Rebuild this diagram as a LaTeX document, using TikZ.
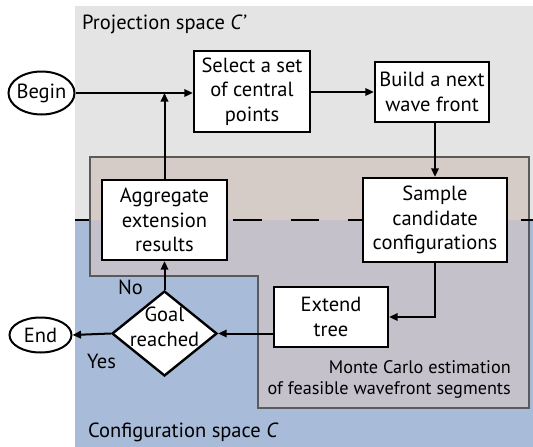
\documentclass[tikz,border=0pt]{standalone}
\usepackage{fontspec}
\setmainfont{PT Sans}
\usetikzlibrary{shapes.geometric,arrows.meta}

\definecolor{projgray}{HTML}{E4E4E4}
\definecolor{confblue}{HTML}{A8BBD8}
\definecolor{mcupper}{HTML}{D5CCC8}
\definecolor{mclower}{HTML}{C5C1CB}
\definecolor{mcedge}{HTML}{5A5A5A}

\tikzset{
  boxfont/.style={font=\fontsize{20.5}{24.5}\selectfont},
  stepbox/.style={boxfont, draw=black, line width=2.4pt, fill=white,
    rectangle, align=center, inner sep=0pt},
  terminal/.style={boxfont, draw=black, line width=2pt, fill=white,
    ellipse, inner sep=0pt},
  decision/.style={draw=black, line width=2.4pt, fill=white,
    diamond, inner sep=0pt},
  conn/.style={line width=2pt, -{Triangle[length=8.5pt,width=7.5pt]}},
  region/.style={font=\fontsize{20.5}{24}\selectfont, inner sep=0pt},
}

\begin{document}
\begin{tikzpicture}[x=1pt, y=-1pt]
\useasboundingbox (0,0) rectangle (533,447);

% the two spaces
\fill[projgray] (75,6) rectangle (533,220);
\fill[confblue] (75,220) rectangle (533,447);

% Monte Carlo estimation area (L-shaped)
\def\mcpath{(90,157) -- (529,157) -- (529,408) -- (258,408) -- (258,276) -- (90,276) -- cycle}
\begin{scope}
  \clip (0,0) rectangle (533,220);
  \fill[mcupper] \mcpath;
\end{scope}
\begin{scope}
  \clip (0,220) rectangle (533,447);
  \fill[mclower] \mcpath;
\end{scope}
\draw[mcedge, line width=1.8pt] \mcpath;

% border between the spaces
\begin{scope}
  \clip (75,0) rectangle (533,447);
  \draw[line width=2pt, dash pattern=on 28.5pt off 29pt] (60.5,220) -- (533,220);
\end{scope}

% region labels
\node[region, anchor=base west] (projlabel) at (82,29) {Projection space \textit{C'}};
\node[region, anchor=base west] (conflabel) at (88,437) {Configuration space \textit{C}};
\node[font=\fontsize{18.2}{21}\selectfont, inner sep=0pt, align=right, anchor=south east]
  (mclabel) at (511,399) {Monte Carlo estimation\\of feasible wavefront segments};

% flow nodes
\node[terminal, minimum width=66pt, minimum height=43pt] (begin) at (41.5,93) {\makebox[0pt]{Begin}};
\node[stepbox, minimum width=116pt, minimum height=81pt] (select) at (252,91.5) {Select a set\\of central\\points};
\node[stepbox, minimum width=114pt, minimum height=60pt] (build) at (432,92) {Build a next\\wave front};
\node[stepbox, minimum width=144pt, minimum height=84pt] (sample) at (435,220) {Sample\\candidate\\configurations};
\node[stepbox, minimum width=114pt, minimum height=60pt] (extend) at (331,317) {Extend\\tree};
\node[stepbox, minimum width=125pt, minimum height=80pt] (aggregate) at (164.5,220) {Aggregate\\extension\\results};
\node[decision, minimum width=105pt, minimum height=85pt] (goal) at (164.5,333.5) {};
\node[boxfont, align=center, inner sep=0pt] (goaltext) at (164.5,327) {Goal\\reached};
\node[terminal, minimum width=62pt, minimum height=35pt] (end) at (40.5,335) {\makebox[0pt]{End}};

% branch labels
\node[boxfont, anchor=base west, inner sep=0pt] (nolabel) at (118,294) {No};
\node[boxfont, anchor=base west, inner sep=0pt] (yeslabel) at (87,368) {Yes};

% connectors
\draw[conn] (begin.east) -- (select.west |- begin.east);
\draw[conn] (aggregate.north) -- (aggregate.north |- begin.east);
\draw[conn] (select.east |- build) -- (build.west);
\draw[conn] (sample.north |- build.south) -- (sample.north);
\draw[conn] (sample.south) |- (extend.east);
\draw[conn] (extend.west |- goal) -- (goal.east);
\draw[conn] (goal.north) -- (aggregate.south);
\draw[conn] (goal.west) -- (end.east);
\end{tikzpicture}
\end{document}
